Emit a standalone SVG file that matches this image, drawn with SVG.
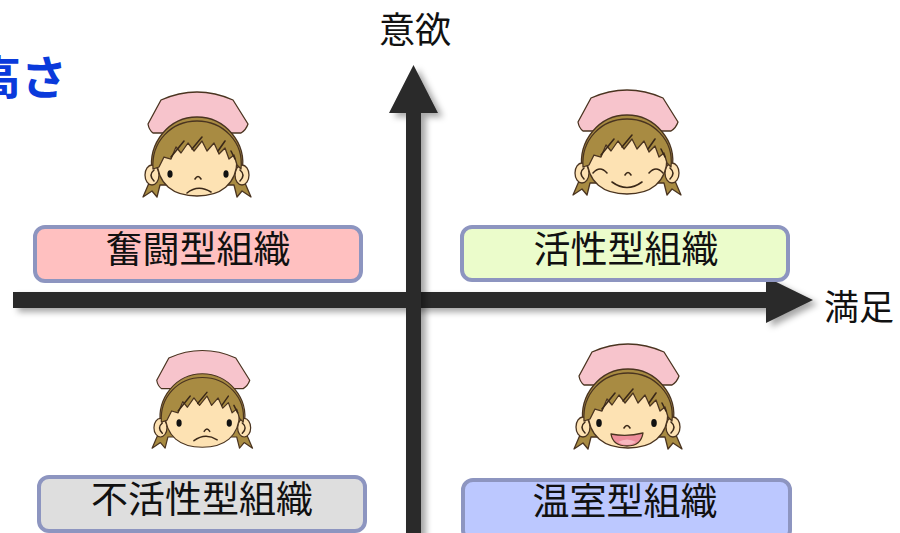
<svg xmlns="http://www.w3.org/2000/svg" xmlns:xlink="http://www.w3.org/1999/xlink" width="900" height="533" viewBox="0 0 900 533">
  <style>
    .jp { font-family: "Noto Sans CJK JP", "Noto Sans", sans-serif; fill: #111; }
    .lbl { font-size: 37px; text-anchor: middle; }
    .box { stroke: #8d95c0; stroke-width: 4; }
    .ol { stroke: #4a3420; stroke-width: 1.3; stroke-linejoin: round; }
    .line { fill: none; stroke: #3a2818; stroke-width: 1.6; stroke-linecap: round; }
    .eye { fill: #111; }
    .axis { fill: #2b2b2b; filter: url(#shadow); }
  </style>
  <defs>
    <filter id="shadow" x="-20%" y="-20%" width="140%" height="140%">
      <feDropShadow dx="5" dy="4" stdDeviation="3" flood-color="#000" flood-opacity="0.35"/>
    </filter>
    <!-- nurse head without expression, local frame ~130x115 -->
    <g id="head">
      <path class="ol" fill="#f7c4cc" d="M18,39 L31,15 Q67,-1 103,15 L118,39 Q116,45 111,48 L23,48 Q19,45 18,39 Z"/>
      <path class="ol" fill="#a88b42" d="M22,86 C18,58 39,32 67,32 C95,32 117,58 112,86 L115,98 L121,112 L112,106 L107,112 L104,100 L30,100 L27,112 L22,106 L13,112 L19,98 Z"/>
      <ellipse class="ol" fill="#fde2b3" cx="22" cy="90" rx="7" ry="10"/>
      <ellipse class="ol" fill="#fde2b3" cx="112" cy="90" rx="7" ry="10"/>
      <path class="line" d="M24,85 Q18,90 24,96 M110,85 Q116,90 110,96"/>
      <path class="ol" fill="#fde2b3" d="M27,74 C27,100 44,111 67,111 C90,111 107,100 107,74 C107,58 90,50 67,50 C44,50 27,58 27,74 Z"/>
      <path class="ol" fill="#a88b42" d="M23,84 C21,57 41,36 67,36 C93,36 114,57 111,84 L107,80 L104,70 L99,74 L95,63 L89,69 L84,58 L77,66 L72,56 L64,66 L58,58 L51,68 L46,62 L41,74 L34,72 L29,82 Z"/>
      <path class="line" d="M41,72 L54,56 M62,64 L72,52 M88,66 L95,56 M101,66 L105,74"/>
    </g>
  </defs>

  <rect width="900" height="533" fill="#fff"/>

  <!-- heading, running off the left edge -->
  <text x="67" y="94" text-anchor="end" font-family="Noto Sans CJK JP, sans-serif" font-weight="bold" font-size="46" fill="#0a3adb">高さ</text>

  <!-- axes -->
  <g id="connectors">
    <polygon class="axis" points="13,292 766,292 766,277 813,300 766,323 766,308 13,308"/>
    <polygon class="axis" points="406,545 406,113 389,113 413.5,65 438,113 421,113 421,545"/>
  </g>
  <text class="jp" x="415" y="43" font-size="36" text-anchor="middle">意欲</text>
  <text class="jp" x="824" y="320" font-size="35">満足</text>

  <!-- quadrant labels -->
  <g id="toushi">
    <rect class="box" x="35" y="227" width="326" height="54" rx="10" fill="#ffc0c0"/>
    <text class="jp lbl" x="198" y="263">奮闘型組織</text>
  </g>
  <g id="kassei">
    <rect class="box" x="462" y="227" width="326" height="53" rx="10" fill="#ebfccb"/>
    <text class="jp lbl" x="626" y="263">活性型組織</text>
  </g>
  <g id="fukassei">
    <rect class="box" x="39" y="477" width="326" height="54" rx="10" fill="#dedede"/>
    <text class="jp lbl" x="202" y="513">不活性型組織</text>
  </g>
  <g id="onshitsu">
    <rect class="box" x="463" y="480" width="327" height="60" rx="10" fill="#bcc8ff"/>
    <text class="jp lbl" x="625" y="515">温室型組織</text>
  </g>

  <!-- faces -->
  <g id="face-frown" transform="translate(130,85)">
    <use xlink:href="#head"/>
    <ellipse class="eye" cx="40" cy="89" rx="2.6" ry="3.8"/>
    <ellipse class="eye" cx="96" cy="89" rx="2.6" ry="3.8"/>
    <path class="line" d="M65,94 Q68,89 71,94"/>
    <path class="line" d="M57,108 Q68,99 81,107"/>
  </g>
  <g id="face-smile" transform="translate(560,83)">
    <use xlink:href="#head"/>
    <path class="line" d="M33,90 Q40,82 47,90 M89,90 Q96,82 103,90"/>
    <path class="line" d="M65,92 Q68,87 71,92"/>
    <path class="line" d="M52,99 Q67,110 82,99"/>
  </g>
  <g id="face-sad" transform="translate(140,344) scale(0.93)">
    <use xlink:href="#head"/>
    <ellipse class="eye" cx="42" cy="85" rx="2.8" ry="4"/>
    <ellipse class="eye" cx="96" cy="85" rx="2.8" ry="4"/>
    <path class="line" d="M69,94 Q72,89 75,94"/>
    <path class="line" d="M58,104 Q70,95 83,103"/>
  </g>
  <g id="face-laugh" transform="translate(561,337)">
    <use xlink:href="#head"/>
    <ellipse class="eye" cx="38" cy="86" rx="2.8" ry="4"/>
    <ellipse class="eye" cx="93" cy="86" rx="2.8" ry="4"/>
    <path class="line" d="M63,91 Q66,86 69,91"/>
    <path class="ol" fill="#ee8e9b" d="M50,97 Q66,100 82,96 Q80,109 66,109 Q52,109 50,97 Z"/>
    <path fill="#f7b8c0" d="M57,105 Q66,100 75,105 Q70,108 66,108 Q61,108 57,105 Z"/>
  </g>
</svg>
